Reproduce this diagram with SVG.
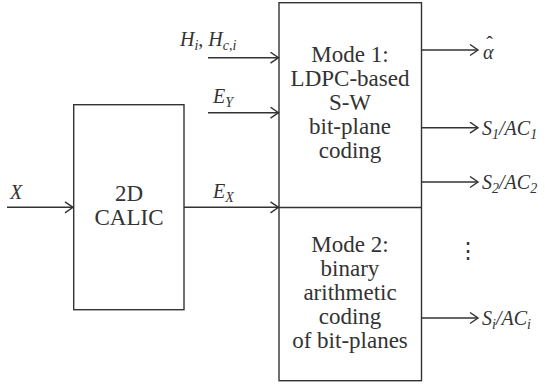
<svg xmlns="http://www.w3.org/2000/svg" width="545" height="385" viewBox="0 0 545 385">
<style>
.boxline{fill:none;stroke:#333;stroke-width:1.4}
</style>
<defs>
<marker id="ah" markerUnits="userSpaceOnUse" markerWidth="12" markerHeight="14" refX="9" refY="6" orient="auto">
<path d="M1,0.5 L9,6 L1,11.5" fill="none" stroke="#333" stroke-width="1.4"/>
</marker>
</defs>
<rect width="545" height="385" fill="#fff"/>
<g id="calic">
<rect class="boxline" x="73.7" y="104.7" width="110.3" height="205"/>
<text font-family="Liberation Serif" font-size="23" fill="#333" x="114.9" y="201">2D</text>
<text font-family="Liberation Serif" font-size="23" fill="#333" x="94.5" y="225">CALIC</text>
</g>
<g id="coder">
<rect class="boxline" x="279" y="2.7" width="142.5" height="378"/>
<line class="boxline" x1="279" y1="207.5" x2="421.5" y2="207.5"/>
<text font-family="Liberation Serif" font-size="23" fill="#333" x="311.3" y="61.5">Mode 1:</text>
<text font-family="Liberation Serif" font-size="23" fill="#333" x="290.6" y="85.5">LDPC-based</text>
<text font-family="Liberation Serif" font-size="23" fill="#333" x="328.9" y="109.5">S-W</text>
<text font-family="Liberation Serif" font-size="23" fill="#333" x="309.1" y="133.5">bit-plane</text>
<text font-family="Liberation Serif" font-size="23" fill="#333" x="318.7" y="157.5">coding</text>
<text font-family="Liberation Serif" font-size="23" fill="#333" x="311.3" y="251.5">Mode 2:</text>
<text font-family="Liberation Serif" font-size="23" fill="#333" x="320.6" y="275.5">binary</text>
<text font-family="Liberation Serif" font-size="23" fill="#333" x="303.4" y="299.5">arithmetic</text>
<text font-family="Liberation Serif" font-size="23" fill="#333" x="318.7" y="323.5">coding</text>
<text font-family="Liberation Serif" font-size="23" fill="#333" x="292.2" y="347.5">of bit-planes</text>
</g>
<g id="connectors">
<line class="boxline" x1="7" y1="207.3" x2="73" y2="207.3" marker-end="url(#ah)"/>
<line class="boxline" x1="184" y1="207.3" x2="278.5" y2="207.3" marker-end="url(#ah)"/>
<line class="boxline" x1="208" y1="112.7" x2="278.5" y2="112.7" marker-end="url(#ah)"/>
<line class="boxline" x1="208" y1="57.7" x2="278.5" y2="57.7" marker-end="url(#ah)"/>
<line class="boxline" x1="421.5" y1="50" x2="478" y2="50" marker-end="url(#ah)"/>
<line class="boxline" x1="421.5" y1="127.7" x2="478" y2="127.7" marker-end="url(#ah)"/>
<line class="boxline" x1="421.5" y1="182" x2="478" y2="182" marker-end="url(#ah)"/>
<line class="boxline" x1="421.5" y1="318" x2="478" y2="318" marker-end="url(#ah)"/>
</g>
<g id="labels">
<text font-family="Liberation Serif" font-size="20" font-style="italic" fill="#333" x="10" y="199">X</text>
<text font-family="Liberation Serif" font-size="20" font-style="italic" fill="#333" x="180" y="46">H<tspan font-size="14" dy="4">i</tspan><tspan dy="-4" font-style="normal">, </tspan>H<tspan font-size="14" dy="4">c,i</tspan></text>
<text font-family="Liberation Serif" font-size="20" font-style="italic" fill="#333" x="213" y="103.3">E<tspan font-size="14" dy="4">Y</tspan></text>
<text font-family="Liberation Serif" font-size="20" font-style="italic" fill="#333" x="213" y="198.3">E<tspan font-size="14" dy="4">X</tspan></text>
<text font-family="Liberation Serif" font-size="20" font-style="italic" fill="#333" x="483" y="59">α</text>
<text font-family="Liberation Serif" font-size="20" fill="#333" x="486.2" y="51">ˆ</text>
<text font-family="Liberation Serif" font-size="20" font-style="italic" fill="#333" x="482" y="134.5">S<tspan font-size="14" dy="4">1</tspan><tspan dy="-4">/AC</tspan><tspan font-size="14" dy="4">1</tspan></text>
<text font-family="Liberation Serif" font-size="20" font-style="italic" fill="#333" x="482" y="189">S<tspan font-size="14" dy="4">2</tspan><tspan dy="-4">/AC</tspan><tspan font-size="14" dy="4">2</tspan></text>
<text font-family="Liberation Serif" font-size="20" font-style="italic" fill="#333" x="482" y="325">S<tspan font-size="14" dy="4">i</tspan><tspan dy="-4">/AC</tspan><tspan font-size="14" dy="4">i</tspan></text>
<text font-family="Liberation Serif" font-size="22" fill="#333" x="457" y="258">⋮</text>
</g>
</svg>
